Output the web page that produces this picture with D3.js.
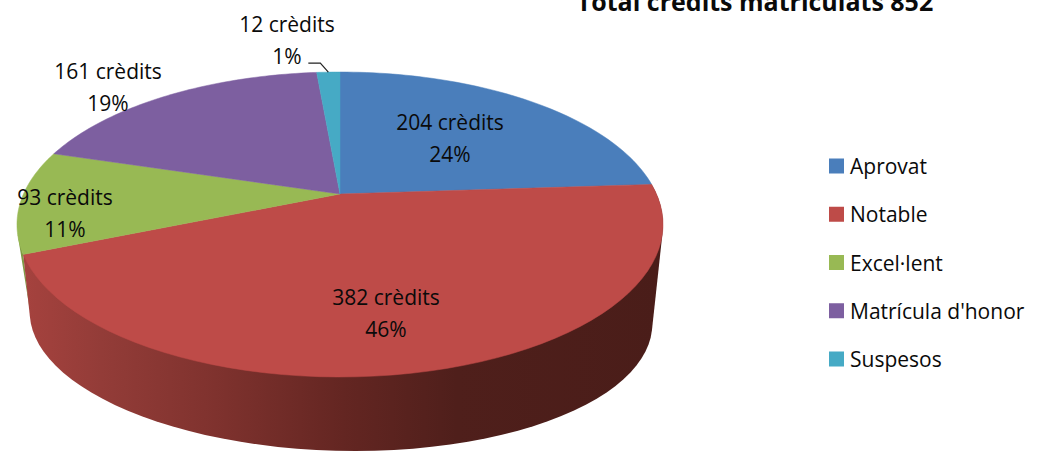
<!DOCTYPE html>
<html>
<head>
<meta charset="utf-8">
<script src="https://cdnjs.cloudflare.com/ajax/libs/d3/7.8.5/d3.min.js"></script>
<style>
  html, body { margin: 0; padding: 0; background: #fff; overflow: hidden; }
  text { font-family: "Open Sans", Lato, sans-serif; fill: #0a0a0a; }
</style>
</head>
<body>
<script>
var categories = ["Aprovat", "Notable", "Excel·lent", "Matrícula d'honor", "Suspesos"];
var credits = [204, 382, 93, 161, 12];
var percents = ["24%", "46%", "11%", "19%", "1%"];
var colors = ["#4a7ebb", "#be4b48", "#98b954", "#7d5fa0", "#46aac5"];
var title = "Total crèdits matriculats 852";

// label centres, one per slice
var labelX = [450, 386, 65, 108, 287];
var labelY = [138, 313, 213, 87, 40];

var width = 1058, height = 451;

var svg = d3.select("body").append("svg")
    .attr("width", width)
    .attr("height", height);

// the pie is tilted in perspective, so the apex is not the middle of the ellipse
function projector(cx, dx, a, b, c, shear, midY, halfY) {
    return function(angle) {
        var u = Math.sin(angle), v = -Math.cos(angle);
        var w = 1 + c * v;
        var y = (a * v + b) / w;
        return [cx + dx * u / w + shear * (y - midY) / halfY, y];
    };
}
var topFace = projector(340, 316.5, 107.6, 194, -0.2, 0, 224, 152);
var bottomFace = projector(341, 304.7, 69.4, 291.4, -0.2, 14, 318, 133);

var pie = d3.pie().sort(null).value(function(d) { return d; });
var arcs = pie(credits);

function arcPoints(face, a0, a1) {
    return d3.range(0, 61).map(function(i) {
        return face(a0 + (a1 - a0) * i / 60);
    });
}
var line = d3.line();
var deg = Math.PI / 180;

var grad = svg.append("defs").append("linearGradient")
    .attr("id", "wall")
    .attr("gradientUnits", "userSpaceOnUse")
    .attr("x1", 25).attr("x2", 660).attr("y1", 0).attr("y2", 0);
[[0, "#a5423e"], [0.12, "#933c38"], [0.3, "#7f322e"], [0.5, "#642622"], [0.68, "#4f1f1b"], [1, "#4a1d19"]]
    .forEach(function(s) {
        grad.append("stop").attr("offset", s[0]).attr("stop-color", s[1]);
    });

var red = arcs[1];

// side wall, hull of the rim arcs; the top face paints over the inner part
svg.append("path")
    .attr("d", line(d3.polygonHull(arcPoints(topFace, red.endAngle, 255 * deg)
        .concat([bottomFace(262 * deg)]))) + "Z")
    .attr("fill", "#7f9a45");
svg.append("path")
    .attr("d", line(d3.polygonHull(arcPoints(topFace, red.startAngle, red.endAngle)
        .concat(arcPoints(bottomFace, red.startAngle, 262 * deg)))) + "Z")
    .attr("fill", "url(#wall)");

// top face
svg.selectAll("path.slice")
    .data(arcs)
    .enter().append("path")
    .attr("class", "slice")
    .attr("d", function(d) {
        return line([[340, 194]].concat(arcPoints(topFace, d.startAngle, d.endAngle))) + "Z";
    })
    .attr("fill", function(d, i) { return colors[i]; })
    .attr("stroke", function(d, i) { return colors[i]; })
    .attr("stroke-width", 0.5);

// leader for the small slice
var small = arcs[4];
var tip = topFace((small.startAngle + small.endAngle) / 2);
svg.append("path")
    .attr("d", line([[tip[0] - 20, tip[1] - 9], [tip[0] - 8, tip[1] - 9], tip]))
    .attr("fill", "none")
    .attr("stroke", "#222")
    .attr("stroke-width", 1.2);

var labels = svg.selectAll("g.label")
    .data(credits)
    .enter().append("g")
    .attr("class", "label")
    .attr("text-anchor", "middle")
    .attr("font-size", 21);
labels.append("text")
    .attr("x", function(d, i) { return labelX[i]; })
    .attr("y", function(d, i) { return labelY[i] - 8; })
    .text(function(d) { return d + " crèdits"; });
labels.append("text")
    .attr("x", function(d, i) { return labelX[i]; })
    .attr("y", function(d, i) { return labelY[i] + 24; })
    .text(function(d, i) { return percents[i]; });

svg.append("text")
    .attr("x", 755)
    .attr("y", 11)
    .attr("text-anchor", "middle")
    .attr("font-size", 25)
    .attr("font-weight", 700)
    .text(title);

// legend
var legendY = d3.scalePoint().domain(categories).range([166, 359]);
var legend = svg.selectAll("g.legend")
    .data(categories)
    .enter().append("g")
    .attr("class", "legend")
    .attr("transform", function(d) { return "translate(829," + legendY(d) + ")"; });
legend.append("rect")
    .attr("y", -7.5)
    .attr("width", 15)
    .attr("height", 15)
    .attr("fill", function(d, i) { return colors[i]; });
legend.append("text")
    .attr("x", 21)
    .attr("y", 8)
    .attr("font-size", 21)
    .text(function(d) { return d; });
</script>
</body>
</html>
